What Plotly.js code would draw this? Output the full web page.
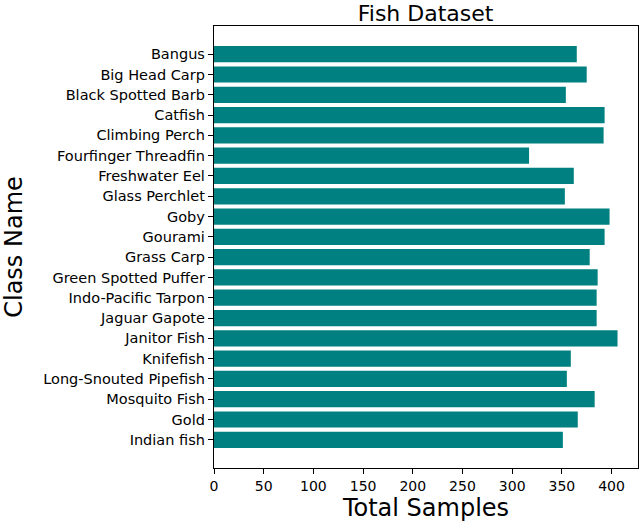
<!DOCTYPE html>
<html>
<head>
<meta charset="utf-8">
<script src="https://cdn.plot.ly/plotly-3.0.1.min.js"></script>
<style>html,body{margin:0;padding:0;background:#fff;}#chart{width:640px;height:524px;}</style>
</head>
<body>
<div id="chart"></div>
<script>
const classNames = ["Bangus","Big Head Carp","Black Spotted Barb","Catfish","Climbing Perch","Fourfinger Threadfin","Freshwater Eel","Glass Perchlet","Goby","Gourami","Grass Carp","Green Spotted Puffer","Indo-Pacific Tarpon","Jaguar Gapote","Janitor Fish","Knifefish","Long-Snouted Pipefish","Mosquito Fish","Gold","Indian fish"];
const totalSamples = [365,375,354,393,392,317,362,353,398,393,378,386,385,385,406,359,355,383,366,351];

const trace = {
  type: 'bar',
  orientation: 'h',
  y: classNames,
  x: totalSamples,
  marker: {color: '#008080'},
  hoverinfo: 'x+y'
};
const f = 'DejaVu Sans, sans-serif';
const layout = {
  width: 640, height: 524,
  margin: {l: 214, r: 2, t: 26, b: 56},
  paper_bgcolor: '#fff', plot_bgcolor: '#fff',
  bargap: 0.2,
  showlegend: false,
  title: {text: 'Fish Dataset', font: {family: f, size: 22, color: '#000'}, x: 0.665, xanchor: 'center', y: 1, yref: 'paper', yanchor: 'bottom', pad: {b: 5}},
  xaxis: {
    range: [0, 426.6], tickvals: [0,50,100,150,200,250,300,350,400],
    ticks: 'outside', ticklen: 5, tickcolor: '#000', tickwidth: 1,
    showline: true, linecolor: '#000', linewidth: 1.2, mirror: true,
    showgrid: false, zeroline: false,
    tickfont: {family: f, size: 14, color: '#000'},
    title: {text: 'Total Samples', font: {family: f, size: 24, color: '#000'}, standoff: 6}
  },
  yaxis: {
    type: 'category', range: [20.39, -1.39],
    ticks: 'outside', ticklen: 5, tickcolor: '#000', tickwidth: 1,
    showline: true, linecolor: '#000', linewidth: 1.2, mirror: true,
    showgrid: false, zeroline: false,
    tickfont: {family: f, size: 14.5, color: '#000'},
    title: {text: 'Class Name', font: {family: f, size: 24, color: '#000'}, standoff: 14}
  }
};
Plotly.newPlot('chart', [trace], layout, {displayModeBar: false, staticPlot: true});
</script>
</body>
</html>
